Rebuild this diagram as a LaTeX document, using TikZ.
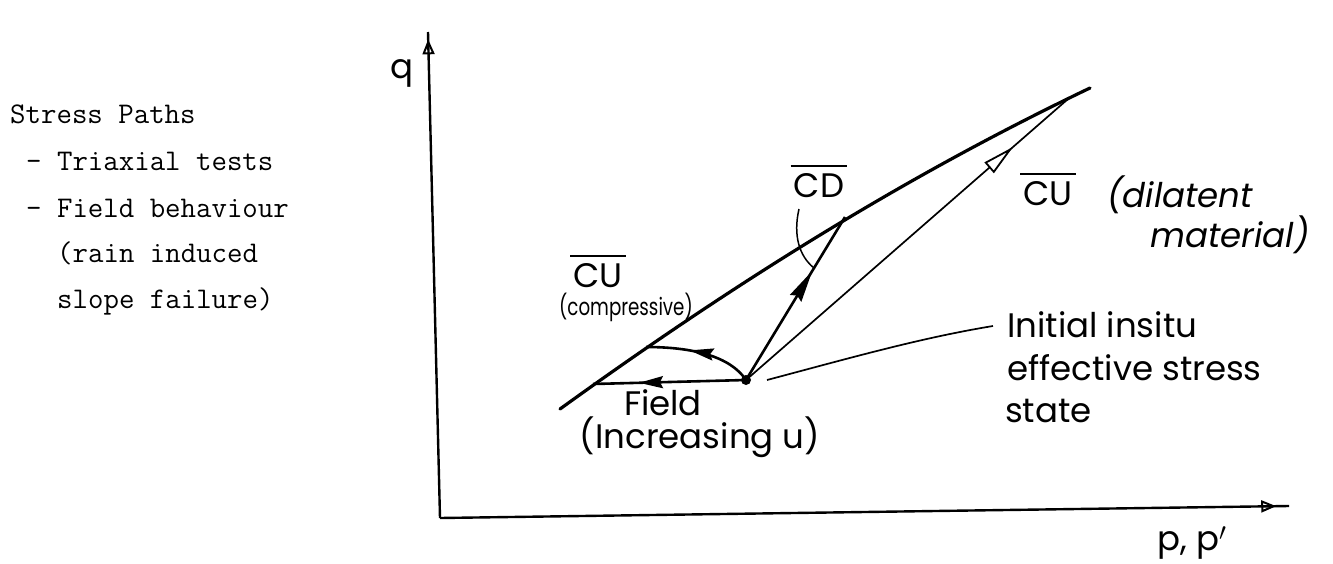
\documentclass[tikz,border=0pt]{standalone}
\usepackage{fontspec}
\newfontfamily\hand{Poppins}
\usetikzlibrary{arrows.meta,decorations.markings,calc}
\begin{document}
\begin{tikzpicture}[x=1pt,y=-1pt,
  hw/.style={font=\hand\fontsize{34}{34}\selectfont, inner sep=0pt, anchor=base},
  hwsmall/.style={font=\hand\fontsize{24}{24}\selectfont, inner sep=0pt, anchor=base, xscale=0.76},
  tw/.style={font=\ttfamily\addfontfeatures{FakeBold=0.6}\fontsize{30}{30}\selectfont, inner sep=0pt, anchor=base west},
  axisl/.style={line width=2.4pt},
  envl/.style={line width=3.2pt, line cap=round},
  pathl/.style={line width=2.6pt},
  thinl/.style={line width=1.7pt},
  ovl/.style={line width=1.5pt},
  midarrow/.style n args={3}{postaction={decorate,decoration={markings,
     mark=at position #1 with {\arrow{Stealth[length=#2,width=#3,inset=3pt]}}}}},
  openarrow/.style={postaction={decorate,decoration={markings,
     mark=at position #1 with {\arrow[line width=1.8pt]{Triangle[open,length=32pt,width=14pt,fill=white]}}}}},
  axisarrow/.style={postaction={decorate,decoration={markings,
     mark=at position #1 with {\arrow[line width=2pt]{Triangle[open,length=15pt,width=12pt]}}}}}
]
\useasboundingbox (0,0) rectangle (1333,563);

% ---- typewritten notes
\node[tw] (t1) at (10,123) {Stress Paths};
\node[tw] (t2) at (26,170) {- Triaxial tests};
\node[tw] (t3) at (26,217) {- Field behaviour};
\node[tw] (t4) at (57,262) {(rain induced};
\node[tw] (t5) at (57,308) {slope failure)};

% ---- axes
\coordinate (O) at (440,518);
\coordinate (Qtop) at (428,32);
\coordinate (Pend) at (1289,506);
\draw[axisl, axisarrow=0.985] (O) -- (Qtop);
\draw[axisl, axisarrow=0.985] (O) -- (Pend);
\node[hw] (qlab) at (402,78) {q};
\node[hw] (plab) at (1192,550) {p, p$'$};

% ---- failure envelope
\coordinate (F0) at (560,409);
\coordinate (Fe) at (593,384);
\coordinate (F1) at (646,347);
\coordinate (F3) at (845,217);
\coordinate (F5) at (1068,99);
\coordinate (F6) at (1090,88);
\draw[envl] (F0) .. controls (740,279) and (910,174) .. (F6);

% ---- initial state
\node[circle, fill, inner sep=0pt, minimum size=10pt] (pt) at (746,380) {};

% ---- stress paths
\draw[pathl, midarrow={0.70}{24pt}{12pt}] (pt.center) -- (Fe);
\draw[pathl, midarrow={0.60}{24pt}{12pt}] (pt.center) .. controls +(-16,-24) and +(46,0) .. (F1);
\draw[pathl, midarrow={0.67}{32pt}{13pt}] (pt.center) -- (F3);
\draw[thinl, openarrow=0.83] (pt.center) -- (F5);

% ---- labels
\node[hw] (cdl) at (819,197) {CD};
\draw[ovl] ([shift={(-3,-7)}]cdl.north west) -- ([shift={(3,-7)}]cdl.north east);
\coordinate (arcA) at (799,209);
\coordinate (arcB) at (814,268);
\draw[ovl] (arcA) .. controls (793,235) and (799,256) .. (arcB);

\node[hw] (cuc) at (598,287) {CU};
\draw[ovl] ([shift={(-3,-7)}]cuc.north west) -- ([shift={(3,-7)}]cuc.north east);
\node[hwsmall] (comp) at (626,315) {(compressive)};

\node[hw] (field) at (663,415) {Field};
\node[hw] (incr) at (700,448) {(Increasing u)};

\node[hw, anchor=base west] (init1) at (1007,337) {Initial insitu};
\node[hw, anchor=base west] (init2) at (1007,380) {effective stress};
\node[hw, anchor=base west] (init3) at (1005,422) {state};
\coordinate (ldA) at (767,380);
\coordinate (ldB) at (993,326);
\draw[thinl] (ldA) .. controls (850,358) and (920,338) .. (ldB);

\node[hw, anchor=base west] (cud) at (1023,205) {CU};
\draw[ovl] ([shift={(-3,-7)}]cud.north west) -- ([shift={(3,-7)}]cud.north east);
\node[hw, anchor=base west, font=\hand\itshape\fontsize{34}{34}\selectfont] (dil1) at (1107,207) {(dilatent};
\node[hw, anchor=base west, font=\hand\itshape\fontsize{34}{34}\selectfont] (dil2) at (1150,247) {material)};
\end{tikzpicture}
\end{document}
